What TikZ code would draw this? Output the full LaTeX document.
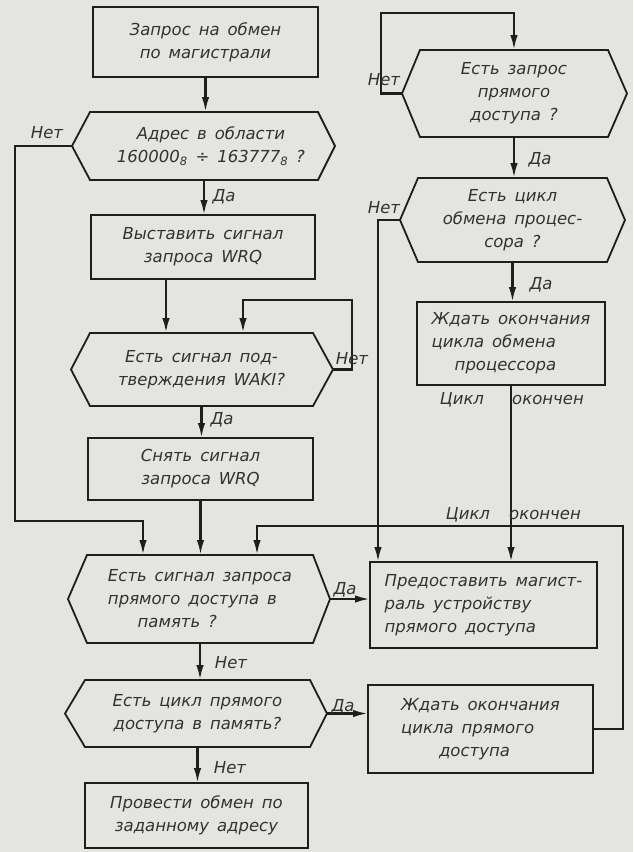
\documentclass[tikz,border=0pt]{standalone}
\usepackage{fontspec}
\setmainfont{DejaVu Sans}
\usetikzlibrary{arrows.meta}
\definecolor{paper}{RGB}{228,228,225}
\definecolor{ink}{RGB}{30,30,30}
\definecolor{txtc}{RGB}{50,50,50}
\newcommand\tf{\fontsize{16.5}{23}\selectfont\itshape\spaceskip=0.48em plus 0.1em minus 0.1em\relax}
\newcommand\hexdraw[3]{\draw[hexline] ([xshift=-#2pt]#1.west) coordinate (#1L) -- (#1.north west) -- (#1.north east) -- ([xshift=#3pt]#1.east) coordinate (#1R) -- (#1.south east) -- (#1.south west) -- cycle;}
\tikzset{
  blk/.style={draw=ink, line width=1.8pt, inner sep=0pt, outer sep=0pt, text=txtc, font=\tf, align=center},
  hx/.style={inner sep=0pt, outer sep=0pt, text=txtc, font=\tf, align=center},
  hexline/.style={draw=ink, line width=1.8pt, line join=miter},
  con/.style={draw=ink, line width=2.4pt},
  arr/.style={con, -{Latex[length=15pt,width=7.5pt]}},
  lbl/.style={text=txtc, font=\tf, inner sep=0pt},
}
\begin{document}
\begin{tikzpicture}[x=1pt,y=-1pt]
\fill[paper] (0,0) rectangle (633,852);
\useasboundingbox (0,0) rectangle (633,852);
% left column
\node[blk, minimum width=225pt, minimum height=70pt] (b1) at (205.5,42) {Запрос на обмен\\по магистрали};
\node[hx, minimum width=228pt, minimum height=68pt] (h1) at (204,146) {\hspace*{14pt}Адрес в области\\\hspace*{14pt}160000\textsubscript{8} ÷ 163777\textsubscript{8} ?};
\hexdraw{h1}{18}{17}
\node[blk, minimum width=224pt, minimum height=64pt] (b2) at (203,247) {Выставить сигнал\\запроса WRQ};
\node[hx, minimum width=223pt, minimum height=73pt] (h2) at (201.5,369.5) {Есть сигнал под-\\тверждения WAKI?};
\hexdraw{h2}{19}{20}
\node[blk, minimum width=225pt, minimum height=62pt] (b3) at (200.5,469) {Снять сигнал\\запроса WRQ};
\node[hx, minimum width=226pt, minimum height=88pt, align=left] (h3) at (200,599) {Есть сигнал запроса\\прямого доступа в\\\hspace*{1.8em}память ?};
\hexdraw{h3}{19}{17}
\node[hx, minimum width=225pt, minimum height=67pt] (h4) at (197.5,713.5) {Есть цикл прямого\\доступа в память?};
\hexdraw{h4}{20}{17}
\node[blk, minimum width=223pt, minimum height=65pt] (b4) at (196.5,815.5) {Провести обмен по\\заданному адресу};
% right column
\node[hx, minimum width=188pt, minimum height=87pt] (rh1) at (514,93.5) {Есть запрос\\прямого\\доступа ?};
\hexdraw{rh1}{18}{19}
\node[hx, minimum width=189pt, minimum height=84pt] (rh2) at (512.5,220) {Есть цикл\\обмена процес-\\сора ?};
\hexdraw{rh2}{18}{18}
\node[blk, minimum width=188pt, minimum height=83pt, align=left] (rb1) at (511,343.5) {Ждать окончания\\цикла обмена\\\hspace*{1.4em}процессора};
\node[blk, minimum width=227pt, minimum height=86pt, align=left] (rb2) at (483.5,605) {Предоставить магист-\\раль устройству\\прямого доступа};
\node[blk, minimum width=225pt, minimum height=88pt, align=left] (rb3) at (480.5,729) {Ждать окончания\\цикла прямого\\\hspace*{2.3em}доступа};
% bend points
\coordinate (lb) at (15,521);
\coordinate (lp) at (352,300);
\coordinate (rp) at (623,526);
\coordinate (tp) at (381,13);
% connectors
\draw[arr] (b1.south) -- (b1.south |- h1.north);
\draw[arr] (h1.south) -- (h1.south |- b2.north);
\draw[arr] (h1L) -| (lb) -| ([xshift=-57pt]h3.north);
\draw[arr] ([xshift=-37pt]b2.south) -- ([xshift=-37pt]b2.south |- h2.north);
\draw[arr] (h2R) -| (lp) -| ([xshift=41.5pt]h2.north);
\draw[arr] (h2.south) -- (h2.south |- b3.north);
\draw[arr] (b3.south) -- (b3.south |- h3.north);
\draw[arr] (rb3.east) -| (rp) -| ([xshift=57pt]h3.north);
\draw[arr] (h3.south) -- (h3.south |- h4.north);
\draw[arr] (h3R) -- (h3R -| rb2.west);
\draw[arr] (h4.south) -- (h4.south |- b4.north);
\draw[arr] (h4R) -- (h4R -| rb3.west);
\draw[arr] (rh1L) -| (tp) -| (rh1.north);
\draw[arr] (rh1.south) -- (rh1.south |- rh2.north);
\draw[arr] (rh2L) -| ([xshift=-105.5pt]rb2.north);
\draw[arr] (rh2.south) -- (rh2.south |- rb1.north);
\draw[arr] (rb1.south) -- (rb1.south |- rb2.north);
% labels
\node[lbl] (l1) at (47,133) {Нет};
\node[lbl] (l2) at (224,197) {Да};
\node[lbl] (l3) at (352,359) {Нет};
\node[lbl] (l4) at (222,420) {Да};
\node[lbl] (l5) at (345,590) {Да};
\node[lbl] (l6) at (231,663) {Нет};
\node[lbl] (l7) at (343,707) {Да};
\node[lbl] (l8) at (230,768) {Нет};
\node[lbl] (l9) at (384,80) {Нет};
\node[lbl] (l10) at (540,160) {Да};
\node[lbl] (l11) at (384,208) {Нет};
\node[lbl] (l12) at (541,285) {Да};
\node[lbl] (l13) at (462,400) {Цикл};
\node[lbl] (l14) at (548,400) {окончен};
\node[lbl] (l15) at (468,515) {Цикл};
\node[lbl] (l16) at (545,515) {окончен};
\end{tikzpicture}
\end{document}
